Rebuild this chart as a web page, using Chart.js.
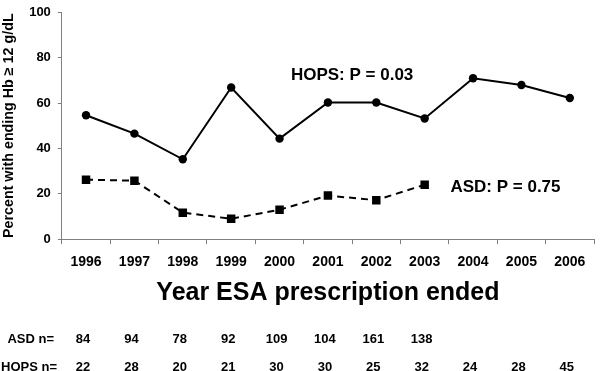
<!DOCTYPE html>
<html>
<head>
<meta charset="utf-8">
<script src="https://cdn.jsdelivr.net/npm/chart.js@4.4.1/dist/chart.umd.min.js"></script>
<style>
  html, body { margin: 0; padding: 0; background: #fff; }
  canvas { display: block; }
</style>
</head>
<body>
<canvas id="chart" width="600" height="371"></canvas>
<script>
// Year the ESA prescription ended
const years = ['1996', '1997', '1998', '1999', '2000', '2001', '2002', '2003', '2004', '2005', '2006'];

// Percent with ending Hb >= 12 g/dL
const hopsPct = [54.6, 46.5, 35.2, 66.8, 44.3, 60.2, 60.2, 53.2, 70.9, 67.9, 62.2];
const asdPct = [26.2, 25.8, 11.7, 9.0, 13.0, 19.2, 17.2, 24.0, null, null, null];

// patient counts per year
const asdN = [84, 94, 78, 92, 109, 104, 161, 138, null, null, null];
const hopsN = [22, 28, 20, 21, 30, 30, 25, 32, 24, 28, 45];

const hopsNote = 'HOPS: P = 0.03';
const asdNote = 'ASD: P = 0.75';

const FONT = "'Liberation Sans', Arial, sans-serif";
const AXIS_GREY = '#808080';

// draws the P value notes and the n= rows under the axis
const notesPlugin = {
  id: 'notes',
  afterDraw(chart) {
    const ctx = chart.ctx;
    const x = chart.scales.x;
    const y = chart.scales.y;
    ctx.save();
    ctx.fillStyle = '#000';
    ctx.textBaseline = 'middle';

    ctx.font = 'bold 17px ' + FONT;
    ctx.textAlign = 'center';
    ctx.fillText(hopsNote, x.getPixelForValue(5.5), y.getPixelForValue(72));
    ctx.fillText(asdNote, x.getPixelForValue(8.67), y.getPixelForValue(22.7));

    ctx.font = 'bold 13px ' + FONT;
    const rowAsd = 339;
    const rowHops = 367;
    ctx.textAlign = 'right';
    ctx.fillText('ASD n=', 54, rowAsd);
    ctx.fillText('HOPS n=', 57, rowHops);
    ctx.textAlign = 'center';
    years.forEach((yr, i) => {
      const px = x.getPixelForValue(i) - 3;
      if (asdN[i] != null) ctx.fillText(String(asdN[i]), px, rowAsd);
      if (hopsN[i] != null) ctx.fillText(String(hopsN[i]), px, rowHops);
    });
    ctx.restore();
  }
};

new Chart(document.getElementById('chart'), {
  type: 'line',
  data: {
    labels: years,
    datasets: [
      {
        label: 'HOPS',
        data: hopsPct,
        borderColor: '#000',
        backgroundColor: '#000',
        borderWidth: 2,
        pointStyle: 'circle',
        pointRadius: 4.2,
        pointBorderWidth: 0,
        tension: 0
      },
      {
        label: 'ASD',
        data: asdPct,
        borderColor: '#000',
        backgroundColor: '#000',
        borderWidth: 2,
        borderDash: [7, 5],
        pointStyle: 'rect',
        pointRadius: 6,
        pointBorderWidth: 0,
        tension: 0
      }
    ]
  },
  options: {
    responsive: false,
    animation: false,
    layout: { padding: { top: 0, right: 1, bottom: 65, left: 0 } },
    plugins: {
      legend: { display: false },
      tooltip: { enabled: false }
    },
    scales: {
      x: {
        offset: true,
        grid: {
          offset: true,
          drawOnChartArea: false,
          drawTicks: true,
          tickLength: 5,
          color: AXIS_GREY
        },
        border: { color: AXIS_GREY, width: 1 },
        ticks: {
          color: '#000',
          padding: 10,
          maxRotation: 0,
          autoSkip: false,
          font: { family: FONT, size: 14, weight: 'bold' }
        },
        title: {
          display: true,
          text: 'Year ESA prescription ended',
          color: '#000',
          padding: { top: 0, bottom: 0 },
          font: { family: FONT, size: 25, weight: 'bold', lineHeight: 1 }
        }
      },
      y: {
        min: 0,
        max: 100,
        grid: {
          drawOnChartArea: false,
          drawTicks: true,
          tickLength: 4,
          color: AXIS_GREY
        },
        border: { color: AXIS_GREY, width: 1 },
        ticks: {
          stepSize: 20,
          color: '#000',
          padding: 7,
          font: { family: FONT, size: 13, weight: 'bold', lineHeight: 0.8 }
        },
        title: {
          display: true,
          text: 'Percent with ending Hb \u2265 12 g/dL',
          color: '#000',
          padding: { top: 0, bottom: 5 },
          font: { family: FONT, size: 14.3, weight: 'bold' }
        }
      }
    }
  },
  plugins: [notesPlugin]
});
</script>
</body>
</html>
